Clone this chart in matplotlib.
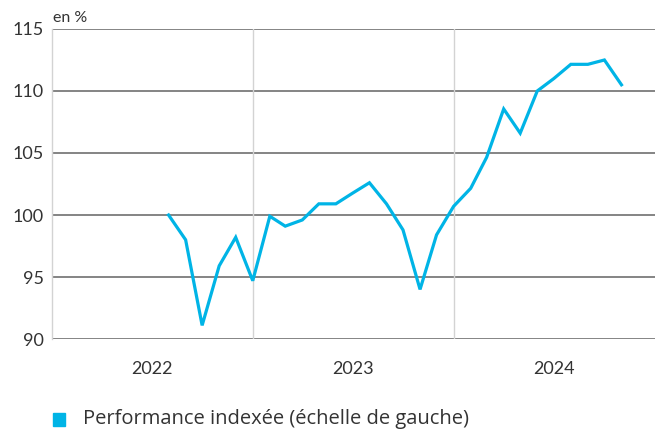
import matplotlib
matplotlib.use("Agg")
import matplotlib.pyplot as plt
from matplotlib.patches import Rectangle
import pandas as pd
from datetime import datetime

plt.rcParams['font.family'] = ['Lato', 'DejaVu Sans']

# monthly values, Aug 2022 -> Nov 2024
months = pd.date_range("2022-08-01", "2024-11-01", freq="MS")
perf = [100.0, 98.0, 91.1, 95.9, 98.2,
        94.7, 99.9, 99.1, 99.6, 100.9, 100.9, 101.75, 102.6, 100.9, 98.8, 94.0, 98.4,
        100.7, 102.15, 104.65, 108.55, 106.6, 110.0, 111.0, 112.15, 112.15, 112.5, 110.5]
years = ["2022", "2023", "2024"]
yticks = [90, 95, 100, 105, 110, 115]
series_label = "Performance indexée (échelle de gauche)"
line_color = "#00b4e6"
text_color = "#333333"

fig = plt.figure(figsize=(6.57, 4.30), dpi=100)
ax = fig.add_axes([0.079, 0.2116, 0.918, 0.721])

ax.plot(months, perf, color=line_color, lw=2.3, solid_joinstyle="miter", zorder=3)

ax.set_xlim(datetime(2022, 1, 1), datetime(2025, 1, 1))
ax.set_ylim(90, 115)

for y in yticks:
    ax.axhline(y, color="#6f6f6f", lw=1.2, zorder=1)
for yr in (2023, 2024):
    ax.axvline(datetime(yr, 1, 1), color="#d3d3d3", lw=1, zorder=1)

for s in ("top", "right", "bottom"):
    ax.spines[s].set_visible(False)
ax.spines["left"].set_color("#d3d3d3")
ax.spines["left"].set_linewidth(1)

ax.set_yticks(yticks)
ax.set_yticklabels([str(v) for v in yticks])
ax.set_xticks([datetime(int(y), 7, 2) for y in years])
ax.set_xticklabels(years)
ax.tick_params(axis="y", length=0, pad=6, labelsize=13, labelcolor=text_color)
ax.tick_params(axis="x", length=0, pad=16, labelsize=13, labelcolor=text_color)

ax.text(0.002, 1.012, "en %", transform=ax.transAxes, fontsize=11.5,
        color=text_color, ha="left", va="bottom")

# legend: square + label
fig.patches.append(Rectangle((53 / 657, 4 / 430), 12 / 657, 13 / 430,
                             transform=fig.transFigure, color=line_color))
fig.text(83 / 657, 11 / 430, series_label, fontsize=14.5, color=text_color,
         ha="left", va="center", family=["Open Sans", "DejaVu Sans"])

fig.savefig("out.png", dpi=100)
